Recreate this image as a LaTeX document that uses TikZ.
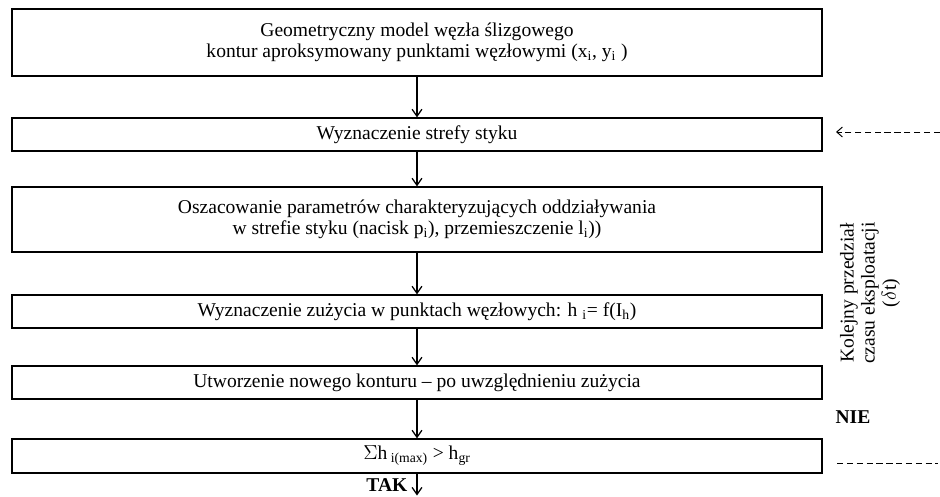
\documentclass[tikz,border=0pt]{standalone}
\usepackage{fontspec}
\setmainfont{Liberation Serif}
\usetikzlibrary{arrows.meta}
\tikzset{
  krok/.style={draw, line width=0.9pt, minimum width=20.25cm, inner sep=0pt, align=center},
  strz/.style={-{Straight Barb[length=5pt,width=7pt]}, line width=0.9pt},
  petla/.style={dash pattern=on 4.5pt off 2.5pt, line width=0.7pt}
}
\begin{document}
\begin{tikzpicture}[x=0.025cm, y=-0.025cm]
                    \useasboundingbox (0,0) rectangle (940,496);
                    {\fontsize{13.9}{15}\selectfont

                    % Drawing box model
                    \node [krok, minimum height=1.675cm] (model) at (417,42.5) {Geometryczny model węzła ślizgowego\\kontur aproksymowany punktami węzłowymi (x\textsubscript{i}, y\textsubscript{i} )};%

                    % Drawing box strefa
                    \node [krok, minimum height=0.825cm] (strefa) at (417,134.5) {Wyznaczenie strefy styku};%

                    % Drawing box parametry
                    \node [krok, minimum height=1.625cm] (param) at (417,219.5) {Oszacowanie parametrów charakteryzujących oddziaływania\\w strefie styku (nacisk p\textsubscript{i}), przemieszczenie l\textsubscript{i}))};%

                    % Drawing box zuzycie
                    \node [krok, minimum height=0.825cm] (zuzycie) at (417,311.5) {Wyznaczenie zużycia w punktach węzłowych: h \textsubscript{i}= f(I\textsubscript{h})};%

                    % Drawing box kontur
                    \node [krok, minimum height=0.825cm] (kontur) at (417,382.5) {Utworzenie nowego konturu -- po uwzględnieniu zużycia};%

                    % Drawing box warunek
                    \node [krok, minimum height=0.85cm] (warunek) at (417,456) {$\Sigma$h\,\textsubscript{i(max)} > h\textsubscript{gr}};%

                    % Drawing arrows between boxes
                    \draw [strz] (model) -- (strefa);%
                    \draw [strz] (strefa) -- (param);%
                    \draw [strz] (param) -- (zuzycie);%
                    \draw [strz] (zuzycie) -- (kontur);%
                    \draw [strz] (kontur) -- (warunek);%
                    \coordinate (koniec) at (417,495.5);%
                    \draw [strz] (warunek) -- (koniec);%

                    % Marking TAK and NIE
                    \node [font=\bfseries, anchor=east, inner sep=1pt] (tak) at (409,485.5) {TAK};%
                    \node [font=\bfseries] (nie) at (853,417) {NIE};%

                    % Drawing loop back (dashed)
                    \coordinate (petlaA) at (940,132);%
                    \coordinate (petlaB) at (836,132);%
                    \coordinate (petlaC) at (837,463);%
                    \coordinate (petlaD) at (938,463);%
                    \draw [petla, -{Straight Barb[length=4pt,width=7pt]}] (petlaA) -- (petlaB);%
                    \draw [petla] (petlaC) -- (petlaD);%

                    % Marking interval label
                    \node [rotate=90, align=center] (przedzial) at (870,293) {Kolejny przedział\\czasu eksploatacji\\($\delta$t)};%
                    }
\end{tikzpicture}
\end{document}
